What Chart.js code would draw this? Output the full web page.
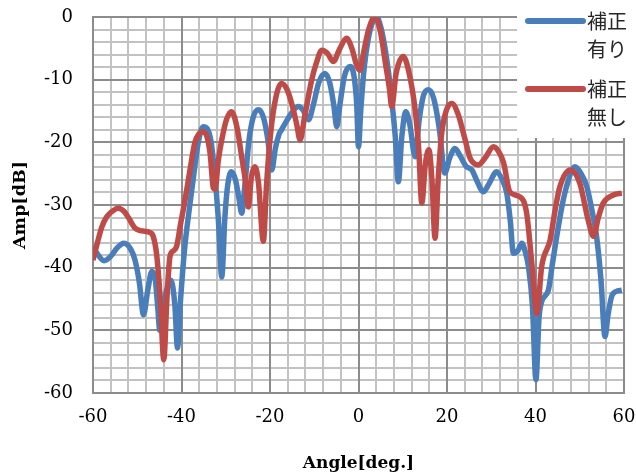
<!DOCTYPE html>
<html>
<head>
<meta charset="utf-8">
<script src="https://cdn.jsdelivr.net/npm/chart.js@4.4.1/dist/chart.umd.min.js"></script>
<style>
html,body{margin:0;padding:0;background:#fff;}
canvas{display:block;}
</style>
</head>
<body>
<canvas id="c" width="636" height="474"></canvas>
<script>
// ---- data ----
const seriesNames = ["補正\n有り", "補正\n無し"];
const xTickLabels = [-60, -40, -20, 0, 20, 40, 60];
const yTickLabels = [0, -10, -20, -30, -40, -50, -60];

const angleWith = [-60,-59,-57.5,-56,-54.5,-53,-51.5,-50.5,-49.5,-48.6,-47.6,-46.7,-46,-45.4,-44.9,-43.5,-42.4,-41.5,-40.9,-40.2,-39.3,-38.3,-37.2,-36.2,-35.1,-34.2,-33.3,-32.5,-31.7,-30.9,-30.2,-29.5,-28.7,-27.8,-27,-26.4,-25.7,-24.8,-23.8,-22.6,-21.5,-20.5,-19.6,-18.8,-18,-17.4,-16,-14.8,-13.6,-12.4,-11.3,-10.2,-9,-7.6,-6.5,-5.6,-4.9,-4.2,-3.2,-1.9,-1,-0.4,0,0.5,1.3,2.2,3.2,4.1,5,6,7,7.5,8.3,9,9.8,10.7,11.6,12.8,13.7,14.7,15.8,17,18.3,19.5,20.6,21.8,23,24.3,25.6,26.8,28.2,29.5,31.2,32.5,33.5,34.3,35,36,36.9,37.7,38.4,39.3,40.1,40.8,41.4,42.9,43.8,44.8,45.9,47,48.9,50.3,51.6,52.8,53.8,54.8,55.7,56.4,57.2,58.2,59.5];
const ampWith = [-36.6,-37.8,-38.9,-38.2,-36.8,-36.1,-37.0,-38.8,-42.5,-47.5,-43.5,-40.6,-41.5,-46,-50,-44,-42.0,-46,-52.8,-45,-37,-31,-25,-20,-17.5,-17.8,-20,-25,-32,-41.5,-32,-26.5,-24.7,-26,-29,-31.3,-27,-20,-16,-14.8,-16,-19.5,-24.4,-21,-18.8,-18.0,-16.3,-15,-14.3,-15,-16.4,-14,-10.5,-9.0,-10.5,-14,-17.5,-14,-9.5,-7.9,-9.5,-14,-20.7,-15,-8,-3.5,-0.8,0,-1.5,-5,-10,-13.2,-19,-26.3,-19,-15.1,-17.2,-22.3,-16.5,-12.5,-11.6,-13,-18,-24.9,-22.5,-21,-22.2,-23.8,-24.4,-26.2,-27.9,-26.6,-24.7,-26,-28.1,-32.5,-37.7,-37.3,-36.1,-37.5,-39.8,-46,-57.9,-48,-45.4,-43.6,-39.5,-35,-30.5,-27.1,-23.9,-25,-27.1,-31,-35,-42,-51,-47.5,-44.6,-43.8,-43.6];

const angleWithout = [-60,-59,-58,-57,-56,-54.3,-53,-52,-50.5,-49.3,-48.2,-47.2,-46.4,-45.6,-44.8,-44,-43.3,-42.6,-41.8,-41.1,-40.2,-39.2,-38.1,-37,-36,-35.1,-34.2,-33.5,-32.8,-32.4,-31.7,-30.9,-29.8,-28.7,-27.5,-26.4,-25.6,-24.9,-24.2,-23.4,-22.6,-21.5,-20.8,-20,-19,-17.4,-16.2,-15.1,-14,-13.2,-12.2,-10.6,-9.5,-8.3,-7,-5.7,-4.2,-2.7,-1.5,-0.5,0.3,1.2,2.3,3.7,5,6,7,7.5,8.5,10.1,11.3,12.8,13.6,14.3,15.1,15.9,16.6,17.3,18,18.8,19.8,21.1,22.5,24.1,25.2,26,27.1,28.6,30.5,31.7,32.8,34.2,36.5,38,39.1,40.3,41.4,43.3,44.5,45.5,47.8,50,51.9,53.1,54.2,55.3,57.6,59.5];
const ampWithout = [-38.8,-36,-33.5,-32,-31.2,-30.5,-31,-32,-33.7,-34.1,-34.2,-34.4,-35.0,-38,-45,-54.7,-45,-38.2,-37.3,-36.6,-33,-29.2,-24.5,-20.1,-18.6,-18.3,-19.2,-22,-27.3,-27.5,-23,-19.6,-16.3,-15.1,-17.5,-22.3,-26,-30.3,-25.5,-23.9,-26.5,-35.8,-27,-19.6,-14,-10.6,-11.5,-13.8,-17,-19.6,-16,-10.1,-7.3,-5.3,-5.8,-7.1,-5,-3.4,-5,-7.5,-8.5,-5.5,-2,0,-2.5,-7,-11.5,-14.3,-9,-6.3,-8.5,-14.8,-21,-29.7,-23.5,-21.2,-26,-35.3,-26,-18.6,-15,-13.8,-15.5,-19.6,-22.5,-23.3,-23.6,-22.5,-20.7,-21.5,-23.3,-27.9,-28.7,-31.3,-38.8,-47.3,-39.8,-35.6,-30.5,-27.1,-24.4,-26.5,-32.4,-35,-32,-29.7,-28.4,-28.1];

const colorWith = "#4A7EBB";
const colorWithout = "#BE4B48";
const majorColor = '#8c8c8c', minorColor = '#c2c2c2';

function pts(xs, ys){ return xs.map((x,i)=>({x:x, y:ys[i]})); }

function drawGrid(chart){
  const ctx = chart.ctx, xs = chart.scales.x, ys = chart.scales.y;
  const a = chart.chartArea;
  const items = [];
  for (const t of xs.ticks){ const v = Math.round(t.value); items.push({isMajor: v % 20 === 0, vert: true, p: Math.round(xs.getPixelForValue(v))}); }
  for (const t of ys.ticks){ const v = Math.round(t.value); items.push({isMajor: v % 10 === 0, vert: false, p: Math.round(ys.getPixelForValue(v))}); }
  ctx.save();
  ctx.lineWidth = 2;
  for (const pass of [false, true]){
    for (const it of items){
      if (it.isMajor !== pass) continue;
      ctx.strokeStyle = pass ? majorColor : minorColor;
      ctx.beginPath();
      if (it.vert){ ctx.moveTo(it.p, Math.round(a.top) - 1); ctx.lineTo(it.p, Math.round(a.bottom) + 1); }
      else { ctx.moveTo(Math.round(a.left) - 1, it.p); ctx.lineTo(Math.round(a.right) + 1, it.p); }
      ctx.stroke();
    }
  }
  ctx.restore();
}

const bgGridPlugin = {
  id: 'bgGrid',
  beforeDraw(chart){
    const ctx = chart.ctx;
    ctx.save();
    ctx.fillStyle = '#fff';
    ctx.fillRect(0,0,chart.width,chart.height);
    ctx.restore();
    drawGrid(chart);
  }
};

const legendPlugin = {
  id: 'overlayLegend',
  afterDraw(chart){
    const ctx = chart.ctx;
    ctx.save();
    ctx.fillStyle = '#ffffff';
    ctx.fillRect(517, 0, 119, 138);
    const items = [
      {c: colorWith, y: 21, lines: seriesNames[0].split('\n')},
      {c: colorWithout, y: 89, lines: seriesNames[1].split('\n')}
    ];
    for (const it of items){
      ctx.strokeStyle = it.c;
      ctx.lineWidth = 6;
      ctx.lineCap = 'round';
      ctx.beginPath();
      ctx.moveTo(528, it.y);
      ctx.lineTo(583, it.y);
      ctx.stroke();
      ctx.fillStyle = '#262626';
      ctx.font = '20px "Noto Sans CJK JP"';
      ctx.textBaseline = 'middle';
      ctx.textAlign = 'left';
      it.lines.forEach((t,k)=>{ ctx.fillText(t, 587, it.y + k*28); });
    }
    ctx.restore();
  }
};

new Chart(document.getElementById('c'), {
  type: 'line',
  data: {
    datasets: [
      {label: seriesNames[1], data: pts(angleWithout, ampWithout), borderColor: colorWithout, backgroundColor: colorWithout, borderWidth: 5.5, pointRadius: 0, cubicInterpolationMode: 'monotone', fill: false, order: 0},
      {label: seriesNames[0], data: pts(angleWith, ampWith), borderColor: colorWith, backgroundColor: colorWith, borderWidth: 5.5, pointRadius: 0, cubicInterpolationMode: 'monotone', fill: false, order: 1}
    ]
  },
  options: {
    responsive: false,
    devicePixelRatio: 1,
    animation: false,
    layout: {padding: {top: 17, right: 12, left: 0, bottom: 0}},
    plugins: {legend: {display: false}, tooltip: {enabled: false}},
    scales: {
      x: {
        type: 'linear', min: -60, max: 60,
        afterFit(s){ s.height = 81; s.paddingLeft = 0; s.paddingRight = 0; },
        ticks: {
          stepSize: 4, autoSkip: false, maxRotation: 0, padding: 14,
          color: '#000', font: {family: '"DejaVu Serif"', size: 18},
          callback(v){ const r = Math.round(v); return xTickLabels.includes(r) ? String(r) : ''; }
        },
        grid: {display: false, drawTicks: false},
        border: {display: false},
        title: {display: true, text: 'Angle[deg.]', color: '#000', font: {family: '"DejaVu Serif"', size: 17, weight: 'bold'}, padding: {top: 0, bottom: 0}}
      },
      y: {
        type: 'linear', min: -60, max: 0,
        afterFit(s){ s.width = 93; s.paddingTop = 0; s.paddingBottom = 0; },
        ticks: {
          stepSize: 2, autoSkip: false, padding: 20,
          color: '#000', font: {family: '"DejaVu Serif"', size: 18},
          callback(v){ const r = Math.round(v); return yTickLabels.includes(r) ? String(r) : ''; }
        },
        grid: {display: false, drawTicks: false},
        border: {display: false},
        title: {display: true, text: 'Amp[dB]', color: '#000', font: {family: '"DejaVu Serif"', size: 17.5, weight: 'bold'}, padding: {top: 10, bottom: 0}}
      }
    }
  },
  plugins: [bgGridPlugin, legendPlugin]
});
</script>
</body>
</html>
